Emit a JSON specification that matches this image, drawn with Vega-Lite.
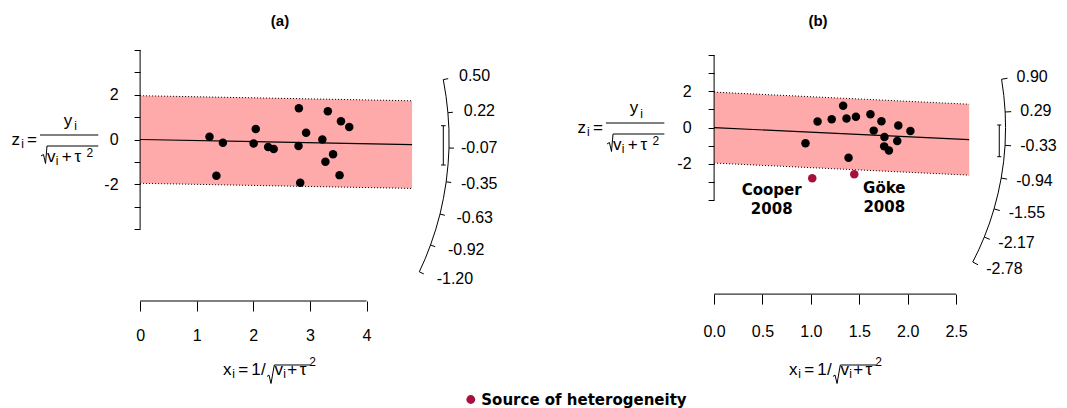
{
  "$schema": "https://vega.github.io/schema/vega-lite/v6.json",
  "width": 1067,
  "height": 408,
  "padding": 0,
  "autosize": {"type": "none"},
  "background": "white",
  "config": {
    "view": {"stroke": null},
    "font": "Liberation Sans",
    "axis": {
      "grid": false,
      "domain": false,
      "title": null,
      "tickColor": "black",
      "tickWidth": 1,
      "labelColor": "black",
      "labelFont": "Liberation Sans",
      "labelFontSize": 16,
      "labelFlush": false,
      "labelOverlap": false,
      "labelBound": false
    },
    "legend": {
      "orient": "none",
      "legendX": 463.3,
      "legendY": 392,
      "title": null,
      "symbolType": "circle",
      "symbolSize": 78,
      "symbolStrokeWidth": 0,
      "symbolOpacity": 1,
      "labelFont": "DejaVu Sans",
      "labelFontSize": 15,
      "labelFontWeight": "bold",
      "labelColor": "black",
      "labelOffset": 3,
      "labelLimit": 0,
      "padding": 0
    }
  },
  "datasets": {
    "ptsA": [
      {"x": 1.226, "z": 0.120, "group": "Study"},
      {"x": 1.463, "z": -0.150, "group": "Study"},
      {"x": 1.348, "z": -1.624, "group": "Study"},
      {"x": 2.043, "z": 0.466, "group": "Study"},
      {"x": 2.006, "z": -0.180, "group": "Study"},
      {"x": 2.262, "z": -0.331, "group": "Study"},
      {"x": 2.360, "z": -0.421, "group": "Study"},
      {"x": 2.805, "z": 1.398, "group": "Study"},
      {"x": 2.799, "z": -0.286, "group": "Study"},
      {"x": 2.829, "z": -1.940, "group": "Study"},
      {"x": 2.933, "z": 0.301, "group": "Study"},
      {"x": 3.220, "z": 0.000, "group": "Study"},
      {"x": 3.317, "z": 1.263, "group": "Study"},
      {"x": 3.274, "z": -0.992, "group": "Study"},
      {"x": 3.409, "z": -0.662, "group": "Study"},
      {"x": 3.549, "z": 0.812, "group": "Study"},
      {"x": 3.695, "z": 0.556, "group": "Study"},
      {"x": 3.524, "z": -1.594, "group": "Study"}
    ],
    "ptsB": [
      {"x": 0.944, "z": -0.870, "group": "Study"},
      {"x": 1.069, "z": 0.333, "group": "Study"},
      {"x": 1.215, "z": 0.463, "group": "Study"},
      {"x": 1.333, "z": 1.204, "group": "Study"},
      {"x": 1.368, "z": 0.500, "group": "Study"},
      {"x": 1.465, "z": 0.593, "group": "Study"},
      {"x": 1.389, "z": -1.667, "group": "Study"},
      {"x": 1.615, "z": 0.741, "group": "Study"},
      {"x": 1.649, "z": -0.167, "group": "Study"},
      {"x": 1.729, "z": 0.352, "group": "Study"},
      {"x": 1.760, "z": -0.519, "group": "Study"},
      {"x": 1.757, "z": -1.037, "group": "Study"},
      {"x": 1.806, "z": -1.259, "group": "Study"},
      {"x": 1.892, "z": -0.741, "group": "Study"},
      {"x": 1.903, "z": 0.111, "group": "Study"},
      {"x": 2.028, "z": -0.185, "group": "Study"},
      {"x": 1.014, "z": -2.800, "group": "Source of heterogeneity"},
      {"x": 1.448, "z": -2.580, "group": "Source of heterogeneity"}
    ],
    "bandA": [
      {"x": 0, "z": 1.96, "z2": -1.96},
      {"x": 4.805, "z": 1.732, "z2": -2.188}
    ],
    "bandB": [
      {"x": 0, "z": 1.96, "z2": -1.96},
      {"x": 2.635, "z": 1.293, "z2": -2.627}
    ],
    "linesA": [
      {"x": 0, "z": 0, "kind": "est"},
      {"x": 4.805, "z": -0.228, "kind": "est"},
      {"x": 0, "z": 1.96, "kind": "hi"},
      {"x": 4.805, "z": 1.732, "kind": "hi"},
      {"x": 0, "z": -1.96, "kind": "lo"},
      {"x": 4.805, "z": -2.188, "kind": "lo"}
    ],
    "linesB": [
      {"x": 0, "z": 0, "kind": "est"},
      {"x": 2.635, "z": -0.667, "kind": "est"},
      {"x": 0, "z": 1.96, "kind": "hi"},
      {"x": 2.635, "z": 1.293, "kind": "hi"},
      {"x": 0, "z": -1.96, "kind": "lo"},
      {"x": 2.635, "z": -2.627, "kind": "lo"}
    ],
    "segA": [
      {"x": 0, "z": -4, "x2": 0, "z2": 4},
      {"x": 0, "z": -7.226, "x2": 4, "z2": -7.226},
      {"x": 5.357, "z": 2.680, "x2": 5.444, "z2": 2.723},
      {"x": 5.438, "z": 1.199, "x2": 5.526, "z2": 1.218},
      {"x": 5.458, "z": -0.380, "x2": 5.546, "z2": -0.386},
      {"x": 5.408, "z": -1.893, "x2": 5.496, "z2": -1.924},
      {"x": 5.299, "z": -3.338, "x2": 5.385, "z2": -3.392},
      {"x": 5.131, "z": -4.720, "x2": 5.214, "z2": -4.796},
      {"x": 4.933, "z": -5.919, "x2": 5.013, "z2": -6.015},
      {"x": 5.357, "z": 0.617, "x2": 5.357, "z2": -1.141},
      {"x": 5.316, "z": 0.617, "x2": 5.399, "z2": 0.617},
      {"x": 5.316, "z": -1.141, "x2": 5.399, "z2": -1.141},
      {"x": -1.769, "z": 0.201, "x2": -0.739, "z2": 0.201}
    ],
    "segB": [
      {"x": 0, "z": -4, "x2": 0, "z2": 4},
      {"x": 0, "z": -9.199, "x2": 2.5, "z2": -9.199},
      {"x": 2.970, "z": 2.672, "x2": 3.031, "z2": 2.727},
      {"x": 3.007, "z": 0.862, "x2": 3.069, "z2": 0.880},
      {"x": 3.006, "z": -0.982, "x2": 3.068, "z2": -1.002},
      {"x": 2.966, "z": -2.788, "x2": 3.027, "z2": -2.845},
      {"x": 2.892, "z": -4.492, "x2": 2.952, "z2": -4.584},
      {"x": 2.791, "z": -6.048, "x2": 2.848, "z2": -6.172},
      {"x": 2.672, "z": -7.427, "x2": 2.727, "z2": -7.580},
      {"x": 2.946, "z": 0.144, "x2": 2.946, "z2": -1.608},
      {"x": 2.925, "z": 0.144, "x2": 2.967, "z2": 0.144},
      {"x": 2.925, "z": -1.608, "x2": 2.967, "z2": -1.608},
      {"x": -1.117, "z": 0.254, "x2": -0.514, "z2": 0.254}
    ],
    "arcA": [
      {"i": 0, "x": 5.357, "z": 2.680},
      {"i": 1, "x": 5.406, "z": 1.924},
      {"i": 2, "x": 5.438, "z": 1.199},
      {"i": 3, "x": 5.456, "z": 0.482},
      {"i": 4, "x": 5.458, "z": -0.380},
      {"i": 5, "x": 5.442, "z": -1.085},
      {"i": 6, "x": 5.408, "z": -1.893},
      {"i": 7, "x": 5.359, "z": -2.638},
      {"i": 8, "x": 5.299, "z": -3.338},
      {"i": 9, "x": 5.221, "z": -4.042},
      {"i": 10, "x": 5.131, "z": -4.720},
      {"i": 11, "x": 5.037, "z": -5.336},
      {"i": 12, "x": 4.933, "z": -5.919}
    ],
    "arcB": [
      {"i": 0, "x": 2.970, "z": 2.672},
      {"i": 1, "x": 2.993, "z": 1.767},
      {"i": 2, "x": 3.007, "z": 0.862},
      {"i": 3, "x": 3.011, "z": 0},
      {"i": 4, "x": 3.006, "z": -0.982},
      {"i": 5, "x": 2.991, "z": -1.879},
      {"i": 6, "x": 2.966, "z": -2.788},
      {"i": 7, "x": 2.933, "z": -3.650},
      {"i": 8, "x": 2.892, "z": -4.492},
      {"i": 9, "x": 2.846, "z": -5.270},
      {"i": 10, "x": 2.791, "z": -6.048},
      {"i": 11, "x": 2.734, "z": -6.755},
      {"i": 12, "x": 2.672, "z": -7.427}
    ],
    "radA": [
      {"part": "y", "i": 0, "x": -1.751, "z": -0.738},
      {"part": "y", "i": 1, "x": -1.707, "z": -0.671},
      {"part": "y", "i": 2, "x": -1.671, "z": -1.074},
      {"part": "y", "i": 3, "x": -1.645, "z": -0.291},
      {"part": "y", "i": 4, "x": -0.739, "z": -0.291},
      {"part": "x", "i": 0, "x": 2.242, "z": -10.604},
      {"part": "x", "i": 1, "x": 2.277, "z": -10.537},
      {"part": "x", "i": 2, "x": 2.313, "z": -10.917},
      {"part": "x", "i": 3, "x": 2.371, "z": -10.089},
      {"part": "x", "i": 4, "x": 3.002, "z": -10.089}
    ],
    "radB": [
      {"part": "y", "i": 0, "x": -1.106, "z": -0.906},
      {"part": "y", "i": 1, "x": -1.081, "z": -0.823},
      {"part": "y", "i": 2, "x": -1.060, "z": -1.320},
      {"part": "y", "i": 3, "x": -1.044, "z": -0.354},
      {"part": "y", "i": 4, "x": -0.514, "z": -0.354},
      {"part": "x", "i": 0, "x": 1.228, "z": -13.751},
      {"part": "x", "i": 1, "x": 1.249, "z": -13.669},
      {"part": "x", "i": 2, "x": 1.270, "z": -14.138},
      {"part": "x", "i": 3, "x": 1.304, "z": -13.116},
      {"part": "x", "i": 4, "x": 1.673, "z": -13.116}
    ],
    "mainA": [
      {"x": -2.196, "z": -0.246, "t": "z"},
      {"x": -1.910, "z": -0.246, "t": "="},
      {"x": -1.274, "z": 0.626, "t": "y"},
      {"x": -1.569, "z": -0.993, "t": "v"},
      {"x": -1.297, "z": -0.993, "t": "+"},
      {"x": -1.101, "z": -0.993, "t": "τ"},
      {"x": 1.539, "z": -10.537, "t": "x"},
      {"x": 1.823, "z": -10.537, "t": "="},
      {"x": 2.048, "z": -10.537, "t": "1"},
      {"x": 2.177, "z": -10.537, "t": "/"},
      {"x": 2.449, "z": -10.537, "t": "v"},
      {"x": 2.687, "z": -10.537, "t": "+"},
      {"x": 2.878, "z": -10.537, "t": "τ"}
    ],
    "subA": [
      {"x": -2.078, "z": -0.394, "t": "i"},
      {"x": -1.138, "z": 0.425, "t": "i"},
      {"x": -1.468, "z": -1.119, "t": "i"},
      {"x": -0.890, "z": -0.783, "t": "2"},
      {"x": 1.650, "z": -10.685, "t": "i"},
      {"x": 2.551, "z": -10.685, "t": "i"},
      {"x": 3.049, "z": -10.134, "t": "2"}
    ],
    "mainB": [
      {"x": -1.367, "z": -0.298, "t": "z"},
      {"x": -1.199, "z": -0.298, "t": "="},
      {"x": -0.827, "z": 0.779, "t": "y"},
      {"x": -1.000, "z": -1.221, "t": "v"},
      {"x": -0.841, "z": -1.221, "t": "+"},
      {"x": -0.726, "z": -1.221, "t": "τ"},
      {"x": 0.817, "z": -13.669, "t": "x"},
      {"x": 0.983, "z": -13.669, "t": "="},
      {"x": 1.115, "z": -13.669, "t": "1"},
      {"x": 1.190, "z": -13.669, "t": "/"},
      {"x": 1.349, "z": -13.669, "t": "v"},
      {"x": 1.489, "z": -13.669, "t": "+"},
      {"x": 1.600, "z": -13.669, "t": "τ"}
    ],
    "subB": [
      {"x": -1.298, "z": -0.481, "t": "i"},
      {"x": -0.748, "z": 0.530, "t": "i"},
      {"x": -0.941, "z": -1.376, "t": "i"},
      {"x": -0.603, "z": -0.961, "t": "2"},
      {"x": 0.882, "z": -13.851, "t": "i"},
      {"x": 1.409, "z": -13.851, "t": "i"},
      {"x": 1.700, "z": -13.171, "t": "2"}
    ],
    "arcLabA": [
      {"x": 5.634, "z": 2.819, "t": "0.50"},
      {"x": 5.720, "z": 1.261, "t": "0.22"},
      {"x": 5.670, "z": -0.400, "t": "-0.07"},
      {"x": 5.670, "z": -1.991, "t": "-0.35"},
      {"x": 5.590, "z": -3.511, "t": "-0.63"},
      {"x": 5.440, "z": -4.964, "t": "-0.92"},
      {"x": 5.240, "z": -6.225, "t": "-1.20"}
    ],
    "arcLabB": [
      {"x": 3.125, "z": 2.811, "t": "0.90"},
      {"x": 3.164, "z": 0.907, "t": "0.29"},
      {"x": 3.163, "z": -1.033, "t": "-0.33"},
      {"x": 3.121, "z": -2.933, "t": "-0.94"},
      {"x": 3.043, "z": -4.726, "t": "-1.55"},
      {"x": 2.936, "z": -6.363, "t": "-2.17"},
      {"x": 2.811, "z": -7.814, "t": "-2.78"}
    ],
    "titleA": [{"x": 2.472, "z": 5.302, "t": "(a)"}],
    "titleB": [{"x": 1.073, "z": 5.890, "t": "(b)"}],
    "labB": [
      {"x": 0.595, "z": -3.448, "t": "Cooper\n2008"},
      {"x": 1.758, "z": -3.337, "t": "Göke\n2008"}
    ]
  },
  "layer": [
    {
      "encoding": {
        "x": {
          "field": "x", "type": "quantitative",
          "scale": {"domain": [-2.4753, 16.3763], "nice": false, "zero": false},
          "axis": {"orient": "bottom", "offset": -107, "values": [0, 1, 2, 3, 4], "format": "d", "tickSize": 10, "labelPadding": 16}
        },
        "y": {
          "field": "z", "type": "quantitative",
          "scale": {"domain": [-12.0134, 6.2416], "nice": false, "zero": false},
          "axis": {"orient": "left", "offset": -140.1, "values": [-4, -3, -2, -1, 0, 1, 2, 3, 4], "tickSize": 6, "labelPadding": 16,
                   "labelExpr": "datum.value === 2 ? '2' : datum.value === 0 ? '0' : datum.value === -2 ? '-2' : ''"}
        }
      },
      "layer": [
        {"data": {"name": "bandA"}, "mark": {"type": "area", "color": "#ffaaaa", "opacity": 1}, "encoding": {"y2": {"field": "z2"}}},
        {"data": {"name": "linesA"}, "transform": [{"filter": "datum.kind !== 'est'"}], "mark": {"type": "line", "color": "black", "strokeWidth": 1, "strokeDash": [1, 2]}, "encoding": {"detail": {"field": "kind"}}},
        {"data": {"name": "linesA"}, "transform": [{"filter": "datum.kind === 'est'"}], "mark": {"type": "line", "color": "black", "strokeWidth": 1.1}, "encoding": {"detail": {"field": "kind"}}},
        {"data": {"name": "segA"}, "mark": {"type": "rule", "color": "black", "strokeWidth": 1}, "encoding": {"x2": {"field": "x2"}, "y2": {"field": "z2"}}},
        {"data": {"name": "radA"}, "mark": {"type": "line", "color": "black", "strokeWidth": 1}, "encoding": {"detail": {"field": "part"}, "order": {"field": "i"}}},
        {"data": {"name": "arcA"}, "mark": {"type": "line", "color": "black", "strokeWidth": 1}, "encoding": {"order": {"field": "i"}}},
        {"data": {"name": "ptsA"}, "mark": {"type": "point", "filled": true, "shape": "circle", "size": 72, "opacity": 1},
         "encoding": {"color": {"field": "group", "type": "nominal", "scale": {"domain": ["Study", "Source of heterogeneity"], "range": ["#000000", "#a8103c"]},
           "legend": {"values": ["Source of heterogeneity"]}}}},
        {"data": {"name": "mainA"}, "mark": {"type": "text", "font": "Liberation Sans", "fontSize": 17, "align": "center", "baseline": "alphabetic", "color": "black"}, "encoding": {"text": {"field": "t"}}},
        {"data": {"name": "subA"}, "mark": {"type": "text", "font": "Liberation Sans", "fontSize": 12, "align": "center", "baseline": "alphabetic", "color": "black"}, "encoding": {"text": {"field": "t"}}},
        {"data": {"name": "arcLabA"}, "mark": {"type": "text", "font": "Liberation Sans", "fontSize": 16, "align": "left", "baseline": "middle", "color": "black"}, "encoding": {"text": {"field": "t"}}},
        {"data": {"name": "titleA"}, "mark": {"type": "text", "font": "Liberation Sans", "fontSize": 15, "fontWeight": "bold", "align": "center", "baseline": "middle", "color": "black"}, "encoding": {"text": {"field": "t"}}}
      ]
    },
    {
      "encoding": {
        "x": {
          "field": "x", "type": "quantitative",
          "scale": {"domain": [-7.3771, 3.6457], "nice": false, "zero": false},
          "axis": {"orient": "bottom", "offset": -113.9, "values": [0, 0.5, 1, 1.5, 2, 2.5], "format": ".1f", "tickSize": 10, "labelPadding": 19}
        },
        "y": {
          "field": "z", "type": "quantitative",
          "scale": {"domain": [-15.4917, 7.0497], "nice": false, "zero": false},
          "axis": {"orient": "left", "offset": -714.1, "values": [-4, -3, -2, -1, 0, 1, 2, 3, 4], "tickSize": 6, "labelPadding": 17,
                   "labelExpr": "datum.value === 2 ? '2' : datum.value === 0 ? '0' : datum.value === -2 ? '-2' : ''"}
        }
      },
      "layer": [
        {"data": {"name": "bandB"}, "mark": {"type": "area", "color": "#ffaaaa", "opacity": 1}, "encoding": {"y2": {"field": "z2"}}},
        {"data": {"name": "linesB"}, "transform": [{"filter": "datum.kind !== 'est'"}], "mark": {"type": "line", "color": "black", "strokeWidth": 1, "strokeDash": [1, 2]}, "encoding": {"detail": {"field": "kind"}}},
        {"data": {"name": "linesB"}, "transform": [{"filter": "datum.kind === 'est'"}], "mark": {"type": "line", "color": "black", "strokeWidth": 1.1}, "encoding": {"detail": {"field": "kind"}}},
        {"data": {"name": "segB"}, "mark": {"type": "rule", "color": "black", "strokeWidth": 1}, "encoding": {"x2": {"field": "x2"}, "y2": {"field": "z2"}}},
        {"data": {"name": "radB"}, "mark": {"type": "line", "color": "black", "strokeWidth": 1}, "encoding": {"detail": {"field": "part"}, "order": {"field": "i"}}},
        {"data": {"name": "arcB"}, "mark": {"type": "line", "color": "black", "strokeWidth": 1}, "encoding": {"order": {"field": "i"}}},
        {"data": {"name": "ptsB"}, "mark": {"type": "point", "filled": true, "shape": "circle", "size": 72, "opacity": 1},
         "encoding": {"color": {"field": "group", "type": "nominal", "scale": {"domain": ["Study", "Source of heterogeneity"], "range": ["#000000", "#a8103c"]},
           "legend": {"values": ["Source of heterogeneity"]}}}},
        {"data": {"name": "labB"}, "mark": {"type": "text", "font": "DejaVu Sans", "fontSize": 15, "fontWeight": "bold", "align": "center", "baseline": "middle", "lineBreak": "\n", "lineHeight": 19, "color": "black"}, "encoding": {"text": {"field": "t"}}},
        {"data": {"name": "mainB"}, "mark": {"type": "text", "font": "Liberation Sans", "fontSize": 17, "align": "center", "baseline": "alphabetic", "color": "black"}, "encoding": {"text": {"field": "t"}}},
        {"data": {"name": "subB"}, "mark": {"type": "text", "font": "Liberation Sans", "fontSize": 12, "align": "center", "baseline": "alphabetic", "color": "black"}, "encoding": {"text": {"field": "t"}}},
        {"data": {"name": "arcLabB"}, "mark": {"type": "text", "font": "Liberation Sans", "fontSize": 16, "align": "left", "baseline": "middle", "color": "black"}, "encoding": {"text": {"field": "t"}}},
        {"data": {"name": "titleB"}, "mark": {"type": "text", "font": "Liberation Sans", "fontSize": 15, "fontWeight": "bold", "align": "center", "baseline": "middle", "color": "black"}, "encoding": {"text": {"field": "t"}}}
      ]
    }
  ],
  "resolve": {"scale": {"x": "independent", "y": "independent"}}
}
